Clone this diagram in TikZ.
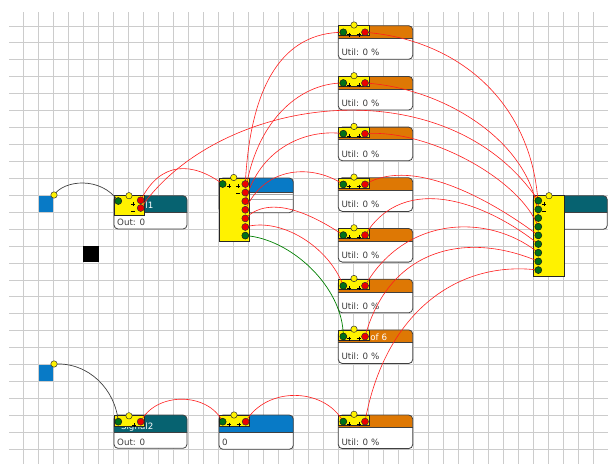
\documentclass[tikz,border=0pt]{standalone}
\usepackage{fontspec}
\setmainfont{DejaVu Sans}
\definecolor{teal1}{RGB}{6,98,112}
\definecolor{blue1}{RGB}{8,122,198}
\definecolor{orng}{RGB}{222,120,4}
\definecolor{gridc}{RGB}{204,204,204}
\definecolor{dotred}{RGB}{236,0,0}
\definecolor{dotgrn}{RGB}{0,112,24}
\definecolor{wred}{RGB}{255,30,30}
\definecolor{txtc}{RGB}{60,60,60}
\pgfdeclarelayer{wirel}
\pgfdeclarelayer{dotl}
\pgfsetlayers{main,wirel,dotl}
\tikzset{
 gridl/.style={draw=gridc, line width=0.9pt},
 bodyb/.style={draw=black!75, line width=0.8pt, rounded corners=4pt},
 ybox/.style={fill=yellow, draw=black!85, line width=0.6pt},
 pin/.style={circle, fill=yellow, draw=black!80, line width=0.5pt, minimum size=6.4pt, inner sep=0pt},
 rdot/.style={circle, fill=dotred, draw=black!80, line width=0.5pt, minimum size=7pt, inner sep=0pt},
 gdot/.style={circle, fill=dotgrn, draw=black!90, line width=0.5pt, minimum size=7pt, inner sep=0pt},
 lbl/.style={font=\fontsize{8.7}{10}\selectfont, text=txtc, inner sep=0pt, anchor=base west},
 hlbl/.style={font=\fontsize{8.7}{10}\selectfont, text=white, inner sep=0pt, anchor=base east},
 mk/.style={draw=black, line width=0.6pt},
 rw/.style={draw=wred, line width=0.6pt},
 bw/.style={draw=black!75, line width=0.7pt},
 gw/.style={draw=green!50!black, line width=0.7pt},
}
% body: width, height, header height, header colour
\newcommand\mybody[4]{%
  \fill[white, rounded corners=4pt] (0,0) rectangle (#1,#2);
  \begin{scope}\clip (0,0) rectangle (#1,#3);
    \fill[#4, rounded corners=4pt] (0,0) rectangle (#1,#2);
  \end{scope}
  \draw[black!75, line width=0.6pt] (0,#3) -- (#1,#3);
  \draw[bodyb] (0,0) rectangle (#1,#2);
}
\newcommand\mkplus[2]{\draw[mk] (#1-2,#2) -- (#1+2,#2) (#1,#2-2) -- (#1,#2+2);}
\newcommand\mkminus[2]{\draw[mk] (#1-2,#2) -- (#1+2,#2);}
% server: name, x, y
\newcommand\mysrv[3]{%
\begin{scope}[shift={(#2,#3)}]
  \mybody{74.4}{33.6}{12.6}{orng}
  \draw[ybox] (0,0) rectangle (31,10);
  \mkplus{10.5}{8.8}\mkplus{20.5}{8.8}
  \node[lbl] (#1t) at (3,30) {Util: 0 \%};
  \begin{pgfonlayer}{dotl}
    \node[pin] (#1p) at (15.7,-0.7) {};
    \node[gdot] (#1i) at (5,6.6) {};
    \node[rdot] (#1o) at (26.7,6.6) {};
  \end{pgfonlayer}
\end{scope}}
\begin{document}
\begin{tikzpicture}[x=1pt,y=-1pt]
\useasboundingbox (0,0) rectangle (608,464);
\fill[white] (0,0) rectangle (608,464);
% grid
\foreach \i in {0,...,38} \draw[gridl] ({23.5+15*\i},12) -- ({23.5+15*\i},464);
\foreach \j in {0,...,25} \draw[gridl] (9,{26+16.93*\j}) -- (608,{26+16.93*\j});

% sources
\fill[blue1] (39,196) rectangle (53.3,212);
\fill[blue1] (39,365) rectangle (53.3,381);
\fill[black] (83.3,246) rectangle (99,262);
\begin{pgfonlayer}{dotl}
  \node[pin] (P1) at (54,195) {};
  \node[pin] (P2) at (54,364) {};
\end{pgfonlayer}

% component 1
\begin{scope}[shift={(114,195.7)}]
  \mybody{73}{33.3}{16.3}{teal1}
  \node[hlbl] (C1h) at (39.5,13) {Signal1};
  \draw[ybox] (0,0) rectangle (30,20);
  \mkplus{19}{8.5}\mkminus{19}{15.5}
  \node[lbl] (C1t) at (3,29.3) {Out: 0};
  \begin{pgfonlayer}{dotl}
    \node[pin] (C1p) at (15,0) {};
    \node[gdot] (C1i) at (4.3,5.3) {};
    \node[rdot] (C1a) at (26.7,4.6) {};
    \node[rdot] (C1b) at (26.7,12.3) {};
  \end{pgfonlayer}
\end{scope}

% component 2
\begin{scope}[shift={(114,415)}]
  \mybody{73}{33.3}{17.3}{teal1}
  \node[hlbl] (C2h) at (39.5,14) {Signal2};
  \draw[ybox] (0,0) rectangle (30,11.5);
  \mkplus{20}{10}
  \node[lbl] (C2t) at (3,30) {Out: 0};
  \begin{pgfonlayer}{dotl}
    \node[pin] (C2p) at (15,0.8) {};
    \node[gdot] (C2i) at (4.3,6.7) {};
    \node[rdot] (C2o) at (26.7,6.7) {};
  \end{pgfonlayer}
\end{scope}

% distributor
\begin{scope}[shift={(219,178)}]
  \mybody{74.3}{34.7}{14}{blue1}
  \draw[black!35, line width=0.6pt] (30,16) -- (74.3,16);
  \draw[black!35, line width=0.6pt] (30,21.5) -- (74.3,21.5);
  \draw[ybox] (0,0) rectangle (30.3,63);
  \mkplus{10}{8}\mkplus{19}{8}\mkminus{19}{15}
  \begin{pgfonlayer}{dotl}
    \node[pin] (Dp) at (14.7,-0.5) {};
    \node[gdot] (Di) at (3.7,6) {};
    \foreach \k in {1,...,6} \node[rdot] (Do\k) at (26.3,{6+8.6*(\k-1)}) {};
    \node[gdot] (Dg) at (26.3,57.6) {};
  \end{pgfonlayer}
\end{scope}

% bottom blue component
\begin{scope}[shift={(219,415)}]
  \mybody{74.3}{34.3}{17.3}{blue1}
  \draw[ybox] (0,0) rectangle (30.3,11.7);
  \mkplus{10}{9.5}\mkplus{20}{9.5}
  \node[lbl] (Qt) at (3,30) {0};
  \begin{pgfonlayer}{dotl}
    \node[pin] (Qp) at (15,0) {};
    \node[gdot] (Qi) at (3.7,6.7) {};
    \node[rdot] (Qo) at (26.7,6.7) {};
  \end{pgfonlayer}
\end{scope}

% servers
\mysrv{S1}{338.3}{25.7}
\mysrv{S2}{338.3}{76.4}
\mysrv{S3}{338.3}{127.1}
\mysrv{S4}{338.3}{177.8}
\mysrv{S5}{338.3}{228.5}
\mysrv{S6}{338.3}{279.2}
\mysrv{S7}{338.3}{329.9}
\mysrv{S8}{338.3}{415}
\begin{scope}[shift={(338.3,329.9)}]
  \begin{scope}\clip (31,0) rectangle (74.4,12.6);
  \node[hlbl] (S7h) at (49,10.5) {Srv of 6};
  \end{scope}
\end{scope}

% sink
\begin{scope}[shift={(533.3,195.7)}]
  \mybody{74}{33.6}{16.6}{teal1}
  \draw[ybox] (0,0) rectangle (31,81);
  \mkplus{11}{8.5}\mkminus{11}{16}
  \begin{pgfonlayer}{dotl}
    \node[pin] (Kp) at (15.7,0) {};
    \foreach \k in {0,...,8} \node[gdot] (Ki\k) at (5,{5+8.67*\k}) {};
  \end{pgfonlayer}
\end{scope}

% wires
\begin{pgfonlayer}{wirel}
\draw[bw] (P1.center) .. controls +(10,-15) and +(-18,-25) .. (C1i.center);
\draw[bw] (P2.center) .. controls +(35,-2) and +(-3,-32) .. (C2i.center);
\draw[gw] (Dg.center) .. controls +(45,3) and +(0,-50) .. (S7i.center);
\draw[rw] (C1a.center) .. controls +(20,-40) and +(-30,-22) .. (Di.center);
\draw[rw] (C1b.center) .. controls +(80,-115) and +(-90,-135) .. (Ki0.center);
\draw[rw] (Do1.center) .. controls +(5,-100) and +(-60,0) .. (S1i.center);
\draw[rw] (Do2.center) .. controls +(10,-70) and +(-45,0) .. (S2i.center);
\draw[rw] (Do3.center) .. controls +(15,-55) and +(-35,-5) .. (S3i.center);
\draw[rw] (Do4.center) .. controls +(20,-45) and +(-30,-20) .. (S4i.center);
\draw[rw] (Do5.center) .. controls +(25,-25) and +(-30,-20) .. (S5i.center);
\draw[rw] (Do6.center) .. controls +(35,-10) and +(-15,-40) .. (S6i.center);
\draw[rw] (S1o.center) .. controls +(100,8) and +(-3,-100) .. (Ki1.center);
\draw[rw] (S2o.center) .. controls +(80,5) and +(-5,-75) .. (Ki2.center);
\draw[rw] (S3o.center) .. controls +(60,-5) and +(-20,-50) .. (Ki3.center);
\draw[rw] (S4o.center) .. controls +(50,-30) and +(-40,-30) .. (Ki4.center);
\draw[rw] (S5o.center) .. controls +(40,-65) and +(-50,-40) .. (Ki5.center);
\draw[rw] (S6o.center) .. controls +(40,-70) and +(-50,-40) .. (Ki6.center);
\draw[rw] (S7o.center) .. controls +(25,-90) and +(-70,-30) .. (Ki7.center);
\draw[rw] (S8o.center) .. controls +(20,-110) and +(-80,-10) .. (Ki8.center);
\draw[rw] (C2o.center) .. controls +(15,-30) and +(-15,-30) .. (Qi.center);
\draw[rw] (Qo.center) .. controls +(20,-35) and +(-20,-35) .. (S8i.center);
\end{pgfonlayer}
\end{tikzpicture}
\end{document}
